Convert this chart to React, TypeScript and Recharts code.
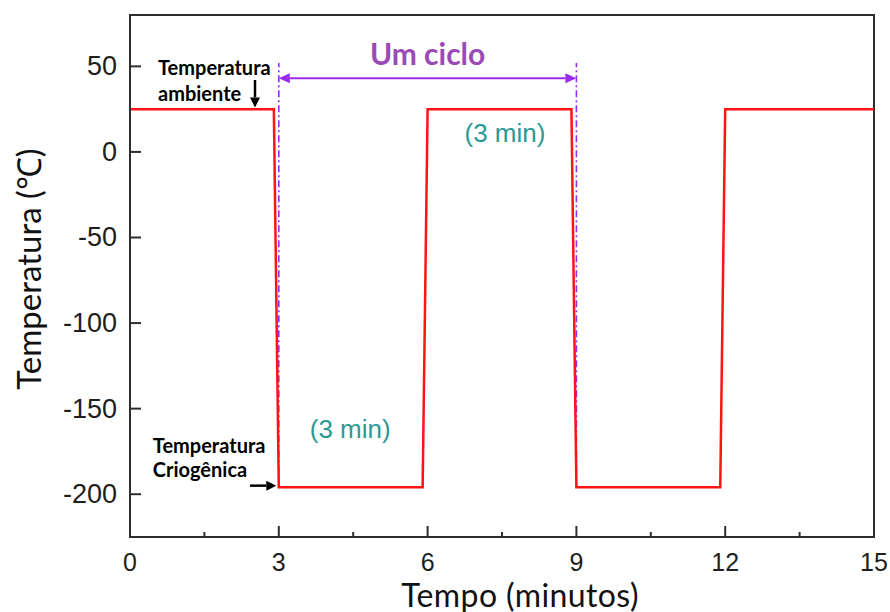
import React from "react";
import {
  LineChart,
  Line,
  XAxis,
  YAxis,
  ReferenceLine,
  ReferenceArea,
  ReferenceDot,
  Label,
} from "recharts";

// Thermal cycling profile: time in minutes, temperature in °C
const tempoMin = [0, 2.9, 3.0, 5.9, 6.0, 8.9, 9.0, 11.9, 12.0, 15];
const temperatura = [25, 25, -196, -196, 25, 25, -196, -196, 25, 25];

const xTicks = [0, 1.5, 3, 4.5, 6, 7.5, 9, 10.5, 12, 13.5, 15];
const yTicks = [50, 0, -50, -100, -150, -200];

const X_DOMAIN: [number, number] = [0, 15];
const Y_DOMAIN: [number, number] = [-225, 80];

// cycle markers and annotation anchors (data coordinates)
const cicloInicio = 3;
const cicloFim = 9;
const cicloTopo = 52;
const cicloSeta = 43;
const tempCriogenica = -196;

const data = tempoMin.map((t, i) => ({ t, temp: temperatura[i] }));

const AXIS_COLOR = "#2e2e2e";
const TICK_FONT = "'Liberation Sans', Arial, sans-serif";
const NOTE_FONT = "Lato, 'Open Sans', sans-serif";
const PURPLE = "#9a2cf2";

const XTick = (props: any) => {
  const { x, y, payload } = props;
  const v = payload.value as number;
  const major = Number.isInteger(v / 3);
  return (
    <g>
      <line x1={x} y1={y} x2={x} y2={y - (major ? 11 : 5)} stroke={AXIS_COLOR} strokeWidth={2} />
      {major && (
        <text
          x={x}
          y={y + 25}
          textAnchor="middle"
          dominantBaseline="central"
          fontFamily={TICK_FONT}
          fontSize={25}
          fill="#1e1e1e"
        >
          {v}
        </text>
      )}
    </g>
  );
};

const YTick = (props: any) => {
  const { x, y, payload } = props;
  return (
    <g>
      <line x1={x} y1={y} x2={x + 11} y2={y} stroke={AXIS_COLOR} strokeWidth={2} />
      <text
        x={x - 13}
        y={y}
        textAnchor="end"
        dominantBaseline="central"
        fontFamily={TICK_FONT}
        fontSize={27}
        fill="#1e1e1e"
      >
        {String(payload.value)}
      </text>
    </g>
  );
};

// double-headed arrow between two points
const DoubleArrow = (props: any) => {
  const { x1, y1, x2, y2 } = props;
  const h = 11;
  const w = 5;
  return (
    <g>
      <line x1={x1 + h} y1={y1} x2={x2 - h} y2={y2} stroke={PURPLE} strokeWidth={2} />
      <polygon points={`${x1},${y1} ${x1 + h},${y1 - w} ${x1 + h},${y1 + w}`} fill={PURPLE} />
      <polygon points={`${x2},${y2} ${x2 - h},${y2 - w} ${x2 - h},${y2 + w}`} fill={PURPLE} />
    </g>
  );
};

// single black arrow pointing from (x1,y1) to (x2,y2)
const BlackArrow = (props: any) => {
  const { x1, y1, x2, y2 } = props;
  const dx = x2 - x1;
  const dy = y2 - y1;
  const len = Math.sqrt(dx * dx + dy * dy) || 1;
  const ux = dx / len;
  const uy = dy / len;
  const h = 10;
  const w = 5;
  const bx = x2 - ux * h;
  const by = y2 - uy * h;
  return (
    <g>
      <line x1={x1} y1={y1} x2={bx} y2={by} stroke="#000" strokeWidth={2.5} />
      <polygon
        points={`${x2},${y2} ${bx - uy * w},${by + ux * w} ${bx + uy * w},${by - ux * w}`}
        fill="#000"
      />
    </g>
  );
};

const makeText =
  (lines: string[], opts: { size: number; color: string; weight?: string; anchor?: string; family?: string; lh?: number }) =>
  (props: any) => {
    const { cx, cy } = props;
    const lh = opts.lh ?? opts.size * 1.3;
    return (
      <text
        x={cx}
        y={cy}
        textAnchor={opts.anchor ?? "start"}
        dominantBaseline="central"
        fontFamily={opts.family ?? NOTE_FONT}
        fontSize={opts.size}
        fontWeight={opts.weight ?? "normal"}
        fill={opts.color}
      >
        {lines.map((l, i) => (
          <tspan key={i} x={cx} dy={i === 0 ? 0 : lh}>
            {l}
          </tspan>
        ))}
      </text>
    );
  };

const XLabel = (props: any) => {
  const { viewBox } = props;
  const cx = viewBox.x + viewBox.width / 2 + 18;
  return (
    <text
      x={cx}
      y={594}
      textAnchor="middle"
      dominantBaseline="central"
      fontFamily={NOTE_FONT}
      fontSize={32}
      letterSpacing={0.4}
      fill="#111"
    >
      Tempo (minutos)
    </text>
  );
};

const YLabel = () => (
  <text
    x={28}
    y={269}
    transform="rotate(-90 28 269)"
    textAnchor="middle"
    dominantBaseline="central"
    fontFamily={NOTE_FONT}
    fontSize={33}
    fill="#111"
  >
    Temperatura (℃)
  </text>
);

export default function App() {
  return (
    <div style={{ position: "absolute", left: 0, top: 0, width: 890, height: 612, background: "#fff" }}>
      <LineChart
        width={890}
        height={612}
        data={data}
        margin={{ top: 15, right: 16, bottom: 35, left: 70 }}
      >
        <XAxis
          type="number"
          dataKey="t"
          domain={X_DOMAIN}
          ticks={xTicks}
          interval={0}
          allowDataOverflow
          height={40}
          tickSize={0}
          tickMargin={0}
          tickLine={false}
          axisLine={{ stroke: AXIS_COLOR, strokeWidth: 2 }}
          tick={<XTick />}
        >
          <Label content={<XLabel />} />
        </XAxis>
        <YAxis
          type="number"
          domain={Y_DOMAIN}
          ticks={yTicks}
          interval={0}
          allowDataOverflow
          width={60}
          tickSize={0}
          tickMargin={0}
          tickLine={false}
          axisLine={{ stroke: AXIS_COLOR, strokeWidth: 2 }}
          tick={<YTick />}
        >
          <Label content={<YLabel />} />
        </YAxis>

        <ReferenceArea
          x1={X_DOMAIN[0]}
          x2={X_DOMAIN[1]}
          y1={Y_DOMAIN[0]}
          y2={Y_DOMAIN[1]}
          fill="none"
          stroke={AXIS_COLOR}
          strokeWidth={2}
        />

        {/* cycle boundaries */}
        <ReferenceLine
          segment={[{ x: cicloInicio, y: tempCriogenica }, { x: cicloInicio, y: cicloTopo }]}
          stroke={PURPLE}
          strokeWidth={1.6}
          strokeDasharray="7 3 2 3"
        />
        <ReferenceLine
          segment={[{ x: cicloFim, y: tempCriogenica }, { x: cicloFim, y: cicloTopo }]}
          stroke={PURPLE}
          strokeWidth={1.6}
          strokeDasharray="7 3 2 3"
        />
        <ReferenceLine
          segment={[{ x: cicloInicio, y: cicloSeta }, { x: cicloFim, y: cicloSeta }]}
          shape={<DoubleArrow />}
        />

        <Line
          type="linear"
          dataKey="temp"
          stroke="#ff1414"
          strokeWidth={2.5}
          dot={false}
          isAnimationActive={false}
        />

        {/* pointer arrows */}
        <ReferenceLine segment={[{ x: 2.52, y: 42 }, { x: 2.52, y: 26 }]} shape={<BlackArrow />} />
        <ReferenceLine segment={[{ x: 2.42, y: -195 }, { x: 2.95, y: -195 }]} shape={<BlackArrow />} />

        {/* annotations */}
        <ReferenceDot
          x={6}
          y={58}
          r={0}
          ifOverflow="visible"
          shape={makeText(["Um ciclo"], { size: 30, color: "#9b4bb5", weight: "bold", anchor: "middle" })}
        />
        <ReferenceDot
          x={7.56}
          y={11}
          r={0}
          ifOverflow="visible"
          shape={makeText(["(3 min)"], { size: 26, color: "#2a9a96", anchor: "middle", family: TICK_FONT })}
        />
        <ReferenceDot
          x={4.44}
          y={-162}
          r={0}
          ifOverflow="visible"
          shape={makeText(["(3 min)"], { size: 26, color: "#2a9a96", anchor: "middle", family: TICK_FONT })}
        />
        <ReferenceDot
          x={0.565}
          y={49.6}
          r={0}
          ifOverflow="visible"
          shape={makeText(["Temperatura", "ambiente"], { size: 20, color: "#000", weight: "bold", lh: 26 })}
        />
        <ReferenceDot
          x={0.46}
          y={-171.4}
          r={0}
          ifOverflow="visible"
          shape={makeText(["Temperatura", "Criogênica"], { size: 20, color: "#000", weight: "bold", lh: 24 })}
        />
      </LineChart>
    </div>
  );
}
